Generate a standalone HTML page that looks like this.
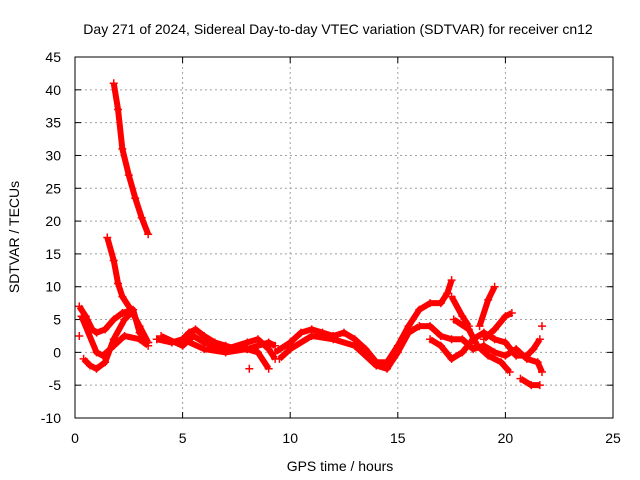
<!DOCTYPE html>
<html><head><meta charset="utf-8"><style>
body{margin:0;background:#fff}
svg{display:block;font-family:"Liberation Sans",sans-serif}
</style></head><body>
<svg id="chart" width="640" height="480" viewBox="0 0 640 480">
<rect width="640" height="480" fill="#fff"/>
<text x="338" y="34" font-size="14" text-anchor="middle">Day 271 of 2024, Sidereal Day-to-day VTEC variation (SDTVAR) for receiver cn12</text>
<text x="340" y="471" font-size="14" text-anchor="middle">GPS time / hours</text>
<text transform="translate(19,237) rotate(-90)" font-size="14" text-anchor="middle">SDTVAR / TECUs</text>
<g id="grid"></g><g id="ticks"></g><g id="data"></g>
<rect x="75" y="57" width="538" height="361" fill="none" stroke="#000" stroke-width="1"/>
</svg>
<script>
const xTicks=[0,5,10,15,20,25];
const yTicks=[-10,-5,0,5,10,15,20,25,30,35,40,45];
const track1=[[1.8,41],[2.0,37],[2.2,31],[2.5,27],[2.8,23.5],[3.1,20.5],[3.4,18]];
const track2=[[1.5,17.5],[1.8,14],[2.0,10.5],[2.2,8.5],[2.6,6.5],[3.0,4],[3.4,1.5]];
const track3=[[0.2,7],[0.5,5.5],[0.8,3.5],[1.0,3],[1.4,3.5],[1.8,5],[2.2,6],[2.7,6.5],[3.0,3],[3.4,1.5]];
const track4=[[0.4,-1],[0.7,-2],[1.0,-2.5],[1.4,-1.5],[1.8,2],[2.3,5],[2.6,6]];
const track5=[[0.3,5.5],[1.0,0],[1.3,-0.5],[1.8,1],[2.3,2.5],[3.0,2],[3.4,1]];
const track6=[[3.8,2],[4.5,1.5],[5.0,2],[5.3,3],[5.6,3.5],[6,2.5],[6.5,1.5],[7,1],[7.5,0.5],[8,0.5],[8.5,1],[9,1.5],[9.3,1]];
const track7=[[5,2],[6,0.5],[7,0],[8,0.5],[8.5,0],[9.0,-2.5]];
const track7b=[[4,2.5],[5,1],[5.5,2.5],[6,1.5],[7,0.5],[8,1.5],[8.5,2],[9,0.5],[9.3,-1]];
const track8=[[9.3,0],[10,1.5],[10.5,3],[11,3.5],[11.5,3],[12,2.5],[12.5,3],[13,2],[13.5,0.5],[14,-1.5],[14.5,-1.5],[15,1],[15.5,4],[16,6.5],[16.5,7.5],[17,7.5],[17.3,9],[17.5,11]];
const track9=[[9.5,-1],[10,0.5],[11,2.5],[12,2],[13,1],[14,-2],[14.5,-2.5],[15,0],[15.5,3],[16,4]];
const track10=[[16,4],[16.5,4],[17,2.5],[17.5,2],[18,2],[18.5,0.5],[19,1],[19.5,0],[20,-0.5],[20.5,0.5],[21,-1],[21.5,-1.5],[21.7,-3]];
const track11=[[16.5,2],[17,1],[17.5,-1],[18,0],[18.5,2],[19,3],[19.5,2],[20,1.5],[20.5,-0.5],[21,-0.5],[21.3,0.5],[21.6,2]];
const track12=[[17.5,8.5],[18,5.5],[18.3,4]];
const track13=[[18.8,4],[19.2,8],[19.5,10]];
const track14=[[19,2],[19.5,3.5],[20,5.5],[20.3,6]];
const track15=[[17.6,5],[18.3,3.5],[18.7,1],[19.2,-0.5],[19.8,-1.5],[20.2,-3]];
const track16=[[20.7,-4],[21.2,-5],[21.6,-5]];
const singles=[[0.2,2.5],[21.7,4],[8.1,-2.5]];
const tracks=[track1,track2,track3,track4,track5,track6,track7,track7b,track8,track9,track10,track11,track12,track13,track14,track15,track16];

const NS="http://www.w3.org/2000/svg";
const px=x=>75+x*(538/25);
const py=y=>57+(45-y)*(361/55);
function mk(tag,attrs,parent){const e=document.createElementNS(NS,tag);for(const k in attrs)e.setAttribute(k,attrs[k]);parent.appendChild(e);return e;}
const grid=document.getElementById('grid'),ticks=document.getElementById('ticks'),data=document.getElementById('data');
xTicks.forEach(t=>{
  if(t>0&&t<25){const g=mk('line',{x1:px(t),x2:px(t),y1:57,y2:418,stroke:'#a0a0a0','stroke-dasharray':'2,3'},grid);
  
  }
  mk('line',{x1:px(t),x2:px(t),y1:418,y2:412,stroke:'#000'},ticks);
  mk('line',{x1:px(t),x2:px(t),y1:57,y2:63,stroke:'#000'},ticks);
  const l=mk('text',{x:px(t),y:443,'font-size':14,'text-anchor':'middle'},ticks);l.textContent=t;
  
  
});
yTicks.forEach(t=>{
  if(t>-10&&t<45){const g=mk('line',{x1:75,x2:613,y1:py(t),y2:py(t),stroke:'#a0a0a0','stroke-dasharray':'2,3'},grid);
  
  }
  mk('line',{x1:75,x2:81,y1:py(t),y2:py(t),stroke:'#000'},ticks);
  mk('line',{x1:607,x2:613,y1:py(t),y2:py(t),stroke:'#000'},ticks);
  const l=mk('text',{x:61,y:py(t)+5,'font-size':14,'text-anchor':'end'},ticks);l.textContent=t;
  
  
});
function plus(x,y){const p=mk('path',{d:`M${px(x)-4},${py(y)}h8M${px(x)},${py(y)-4}v8`,stroke:'#f00','stroke-width':1.5},data);
  
  }
tracks.forEach(tr=>{
  const pl=mk('polyline',{points:tr.map(p=>px(p[0])+','+py(p[1])).join(' '),fill:'none',stroke:'#f00','stroke-width':6,'stroke-linejoin':'round'},data);
  
  
  tr.forEach(p=>plus(p[0],p[1]));
});
singles.forEach(p=>plus(p[0],p[1]));
</script>
</body></html>
